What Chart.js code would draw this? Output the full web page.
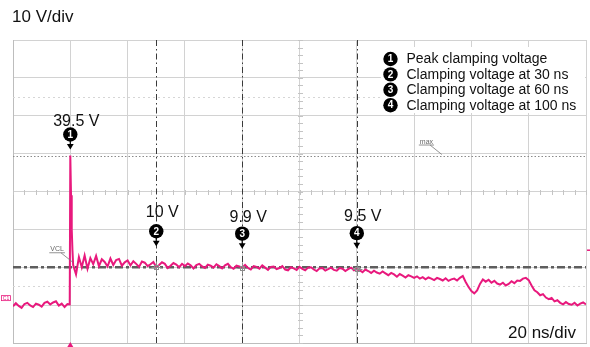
<!DOCTYPE html>
<html>
<head>
<meta charset="utf-8">
<script src="https://cdn.jsdelivr.net/npm/chart.js@4/dist/chart.umd.min.js"></script>
<style>
  html, body { margin: 0; padding: 0; background: #fff; }
  #wrap { width: 590px; height: 347px; }
</style>
</head>
<body>
<div id="wrap"><canvas id="scope" width="590" height="347"></canvas></div>
<script>
// Horizontal: 20 ns/div over ten divisions, edge of the surge at t = 0
const timeLimits = [-20, 180];
const timeStep = 20;
// Vertical: 10 V/div over eight divisions
const voltLimits = [-10, 70];
const voltStep = 10;

// Captured waveform (V). Sampled every 1 ns before and after the edge,
// with a few finer samples across the spike itself.
const preEdgeVolts = [ // t = -20 … -1 ns
  -0.3, 0.5, -0.2, -0.7, 0.3, 0.6, -0.1, -0.5, 0.4, 0.1,
  -0.4, 0.6, 0.9, 0.2, 0.7, 1.0, -0.1, 0.4, -0.5, 0.3
];
const edgeTimes = [-0.2, 0, 0.25, 0.5, 0.75];
const edgeVolts = [0.2, 39.5, 29, 20, 14.5];
const postEdgeVolts = [ // t = 1 … 180 ns
  10.6, 8.1, 12.7, 10.0, 13.1, 9.6, 12.4, 10.8, 13.0, 10.3,
  12.1, 11.4, 10.2, 12.3, 10.6, 11.9, 12.2, 10.4, 11.3, 11.8,
  10.5, 11.6, 10.9, 10.1, 11.5, 11.2, 10.3, 10.8, 11.4, 10.0,
  10.6, 11.3, 10.9, 9.8, 10.4, 11.1, 10.7, 10.0, 10.9, 10.3,
  11.0, 10.5, 9.7, 10.6, 10.9, 10.2, 9.8, 10.7, 10.4, 9.9,
  10.8, 10.3, 9.7, 10.5, 10.9, 10.0, 9.6, 10.4, 10.2, 9.9,
  10.6, 9.8, 9.4, 10.3, 10.1, 9.6, 10.5, 9.9, 9.3, 10.1,
  10.2, 9.5, 9.8, 10.3, 9.4, 9.2, 10.0, 9.7, 9.3, 10.1,
  9.6, 9.2, 9.9, 10.0, 9.4, 9.0, 9.7, 9.8, 9.1, 9.5,
  9.9, 9.3, 9.1, 9.8, 9.6, 9.0, 9.5, 9.9, 9.2, 9.5,
  9.2, 8.7, 9.4, 9.0, 8.5, 9.1, 8.6, 8.3, 8.9, 8.4,
  7.9, 8.5, 8.1, 7.5, 8.2, 7.8, 7.3, 7.9, 7.6, 7.2,
  7.6, 7.0, 7.4, 6.8, 7.3, 7.0, 6.6, 7.2, 6.9, 6.5,
  7.1, 6.4, 6.8, 7.0, 6.5, 7.2, 7.7, 6.1, 4.8, 3.7,
  3.1, 3.9, 5.6, 6.8, 6.2, 6.7, 5.9, 6.4, 5.7, 5.4,
  5.9, 5.2, 5.6, 6.3, 5.8, 6.5, 6.4, 7.0, 7.2, 6.6,
  5.2, 3.9, 3.4, 2.6, 2.9, 2.0, 1.6, 1.9, 1.0, 1.3,
  0.6, 0.2, 0.8, 0.3, 0.1, 0.6, -0.1, 0.4, 0.7, 0.2
];

// Measurement callouts
const markerTimes = [0, 30, 60, 100];
const markerVolts = [39.5, 10, 9.9, 9.5];
const markerLabels = ['39.5 V', '10 V', '9.9 V', '9.5 V'];
const legendLabels = [
  'Peak clamping voltage',
  'Clamping voltage at 30 ns',
  'Clamping voltage at 60 ns',
  'Clamping voltage at 100 ns'
];
const vclLevel = 10;     // VCL reference cursor
const maxLevel = 39.5;   // max cursor
const faintLevels = [55, 5];
const scaleTexts = ['10 V/div', '20 ns/div'];

// ---- assemble trace points ----
const tracePoints = [];
preEdgeVolts.forEach((v, i) => tracePoints.push({ x: timeLimits[0] + i, y: v }));
edgeVolts.forEach((v, i) => tracePoints.push({ x: edgeTimes[i], y: v }));
postEdgeVolts.forEach((v, i) => tracePoints.push({ x: 1 + i, y: v }));

const TRACE = '#e8197d';
const FONT = '"Liberation Sans", Arial, sans-serif';

function hLine(ctx, area, y, color, width, dash) {
  ctx.save();
  ctx.strokeStyle = color; ctx.lineWidth = width; ctx.setLineDash(dash);
  ctx.beginPath(); ctx.moveTo(area.left, y); ctx.lineTo(area.right, y); ctx.stroke();
  ctx.restore();
}
function vLine(ctx, area, x, color, width, dash) {
  ctx.save();
  ctx.strokeStyle = color; ctx.lineWidth = width; ctx.setLineDash(dash);
  ctx.beginPath(); ctx.moveTo(x, area.top); ctx.lineTo(x, area.bottom); ctx.stroke();
  ctx.restore();
}
function badge(ctx, x, y, n) {
  ctx.beginPath(); ctx.arc(x, y, 7.2, 0, Math.PI * 2);
  ctx.fillStyle = '#000'; ctx.fill();
  ctx.fillStyle = '#fff'; ctx.font = 'bold 10px ' + FONT;
  ctx.textAlign = 'center'; ctx.textBaseline = 'middle';
  ctx.fillText(String(n), x, y + 0.5);
}
function downArrow(ctx, x, y0, y1) {
  ctx.strokeStyle = '#000'; ctx.lineWidth = 1.2;
  ctx.beginPath(); ctx.moveTo(x, y0); ctx.lineTo(x, y1 - 4); ctx.stroke();
  ctx.fillStyle = '#000';
  ctx.beginPath(); ctx.moveTo(x - 3.4, y1 - 5.5); ctx.lineTo(x + 3.4, y1 - 5.5); ctx.lineTo(x, y1); ctx.closePath(); ctx.fill();
}
function cursorLabel(ctx, text, x, y, x2, y2) {
  ctx.save();
  ctx.fillStyle = '#666'; ctx.strokeStyle = '#777'; ctx.lineWidth = 0.8;
  ctx.font = '7px ' + FONT; ctx.textAlign = 'left'; ctx.textBaseline = 'alphabetic';
  ctx.fillText(text, x, y);
  const w = ctx.measureText(text).width;
  ctx.beginPath(); ctx.moveTo(x - 1, y + 1.5); ctx.lineTo(x + w + 1, y + 1.5);
  ctx.moveTo(x + w - 3, y + 1.5); ctx.lineTo(x2, y2); ctx.stroke();
  ctx.restore();
}

const scopeDecor = {
  id: 'scopeDecor',
  beforeDraw(chart) {
    const c = chart.ctx;
    c.save(); c.fillStyle = '#fff'; c.fillRect(0, 0, chart.width, chart.height); c.restore();
  },
  beforeDatasetsDraw(chart) {
    const c = chart.ctx, a = chart.chartArea;
    const xs = chart.scales.x, ys = chart.scales.y;
    // faint dotted levels
    faintLevels.forEach(v => hLine(c, a, Math.round(ys.getPixelForValue(v)) + 0.5, '#d6d6d6', 1, [2, 3]));
    // minor ticks on the centre graticule lines
    const cx = Math.round(xs.getPixelForValue((timeLimits[0] + timeLimits[1]) / 2)) + 0.5;
    const cy = Math.round(ys.getPixelForValue((voltLimits[0] + voltLimits[1]) / 2)) + 0.5;
    c.save(); c.strokeStyle = '#c4c4c4'; c.lineWidth = 1; c.beginPath();
    for (let t = timeLimits[0]; t <= timeLimits[1]; t += timeStep / 5) {
      const px = Math.round(xs.getPixelForValue(t)) + 0.5;
      c.moveTo(px, cy - 2.5); c.lineTo(px, cy + 2.5);
    }
    for (let v = voltLimits[0]; v <= voltLimits[1]; v += voltStep / 5) {
      const py = Math.round(ys.getPixelForValue(v)) + 0.5;
      c.moveTo(cx - 2.5, py); c.lineTo(cx + 2.5, py);
    }
    c.stroke(); c.restore();
    // max cursor (dotted) and VCL cursor (dash-dot)
    hLine(c, a, Math.round(ys.getPixelForValue(maxLevel)) + 0.5, '#8a8a8a', 1, [1.5, 2]);
    hLine(c, a, ys.getPixelForValue(vclLevel), '#5e5e5e', 2.4, [8, 3, 3, 3]);
    // time cursors
    markerTimes.slice(1).forEach(t =>
      vLine(c, a, Math.round(xs.getPixelForValue(t)) + 0.5, '#3a3a3a', 1, [6, 3, 1.5, 3]));
  },
  afterDatasetsDraw(chart) {
    const c = chart.ctx, a = chart.chartArea;
    const xs = chart.scales.x, ys = chart.scales.y;
    c.save();

    // cursor crosshairs on the trace
    markerTimes.slice(1).forEach((t, i) => {
      const px = Math.round(xs.getPixelForValue(t)) + 0.5;
      const py = Math.round(ys.getPixelForValue(markerVolts[i + 1])) + 0.5;
      c.strokeStyle = '#8c8c8c'; c.lineWidth = 1;
      c.strokeRect(px - 2, py - 2, 4, 4);
      c.beginPath(); c.moveTo(px - 5, py); c.lineTo(px + 5, py); c.moveTo(px, py - 6); c.lineTo(px, py + 6); c.stroke();
    });

    // cursor tags
    const vclY = ys.getPixelForValue(vclLevel);
    const edgeX = xs.getPixelForValue(0);
    cursorLabel(c, 'VCL', edgeX - 20, vclY - 16, edgeX + 2.5, vclY - 5);
    const maxY = ys.getPixelForValue(maxLevel);
    const maxX = xs.getPixelForValue(122);
    cursorLabel(c, 'max', maxX, maxY - 12, maxX + 22, maxY - 1);

    // measurement callouts
    const lift = [21, 36, 34, 36];
    const textGap = [9, 14, 12, 12];
    markerTimes.forEach((t, i) => {
      const px = xs.getPixelForValue(t);
      const py = ys.getPixelForValue(markerVolts[i]);
      const by = py - lift[i];
      c.fillStyle = '#111'; c.font = '16px ' + FONT;
      c.textAlign = 'center'; c.textBaseline = 'alphabetic';
      c.fillText(markerLabels[i], px + 6, by - textGap[i]);
      downArrow(c, px, by + 6, by + 15);
      badge(c, px, by, i + 1);
    });

    // legend panel
    c.fillStyle = '#fff';
    c.fillRect(381, 47, 204, 66);
    legendLabels.forEach((txt, i) => {
      const y = 59 + i * 15.4;
      badge(c, 390.5, y, i + 1);
      c.fillStyle = '#111'; c.font = '14px ' + FONT;
      c.textAlign = 'left'; c.textBaseline = 'middle';
      c.fillText(txt, 406.5, y + 0.5);
    });

    // scale readouts
    c.fillStyle = '#111'; c.font = '17px ' + FONT;
    c.textAlign = 'left'; c.textBaseline = 'alphabetic';
    c.fillText(scaleTexts[0], 12, 22);
    c.fillText(scaleTexts[1], 508, 338);

    // channel and trigger markers
    const zeroY = ys.getPixelForValue(0);
    c.strokeStyle = TRACE; c.fillStyle = TRACE; c.lineWidth = 0.8;
    c.strokeRect(1.5, zeroY - 9.5, 9, 5);
    c.font = '5px ' + FONT; c.textAlign = 'center'; c.textBaseline = 'middle';
    c.fillText('C1', 6, zeroY - 7);
    c.beginPath(); c.moveTo(edgeX, a.bottom - 1); c.lineTo(edgeX - 3, a.bottom + 4); c.lineTo(edgeX + 3, a.bottom + 4); c.closePath(); c.fill();
    const trigY = ys.getPixelForValue(14.5);
    c.lineWidth = 1.5;
    c.beginPath(); c.moveTo(a.right + 1, trigY); c.lineTo(a.right + 4, trigY); c.stroke();

    c.restore();
  }
};

new Chart(document.getElementById('scope'), {
  type: 'line',
  data: {
    datasets: [{
      data: tracePoints,
      borderColor: TRACE,
      borderWidth: 2,
      pointRadius: 0,
      tension: 0,
      fill: false
    }]
  },
  options: {
    responsive: false,
    animation: false,
    events: [],
    layout: { padding: { left: 13, right: 4, top: 40, bottom: 4 } },
    plugins: { legend: { display: false }, tooltip: { enabled: false } },
    scales: {
      x: {
        type: 'linear', min: timeLimits[0], max: timeLimits[1],
        ticks: { display: false, stepSize: timeStep },
        grid: { color: '#d2d2d2', lineWidth: 1, drawTicks: false },
        border: { display: true, color: '#bdbdbd' }
      },
      y: {
        type: 'linear', min: voltLimits[0], max: voltLimits[1],
        ticks: { display: false, stepSize: voltStep },
        grid: { color: '#d2d2d2', lineWidth: 1, drawTicks: false },
        border: { display: true, color: '#bdbdbd' }
      }
    }
  },
  plugins: [scopeDecor]
});
</script>
</body>
</html>
